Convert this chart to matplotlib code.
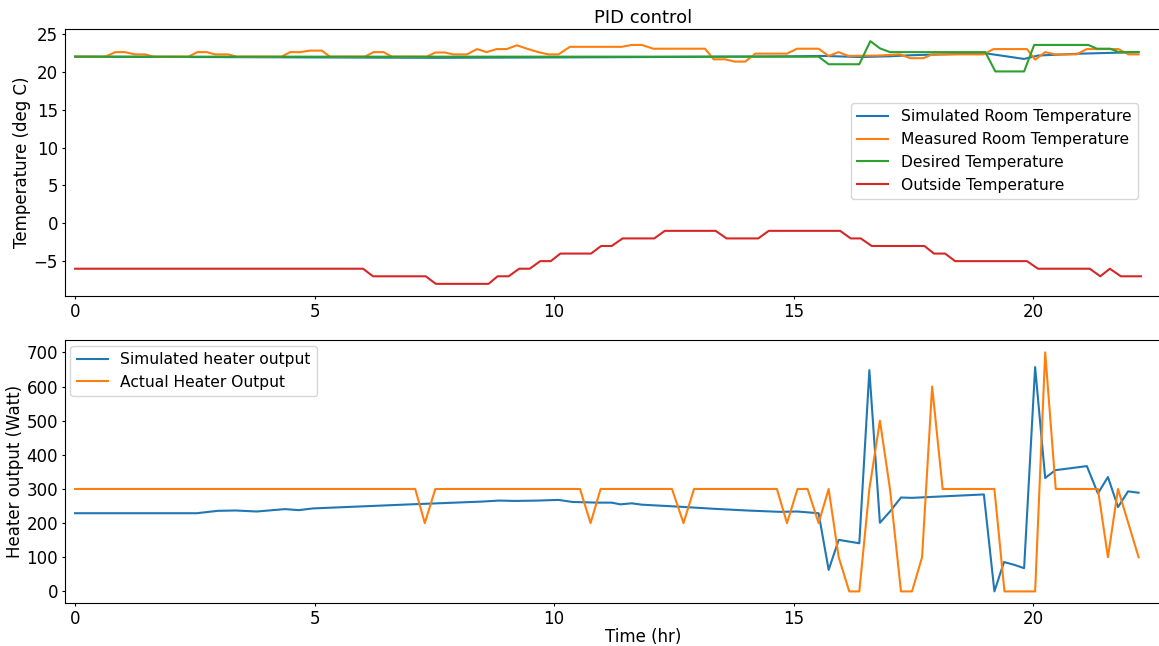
import matplotlib
matplotlib.use("Agg")
import matplotlib.pyplot as plt
from matplotlib.ticker import MultipleLocator

# --- Room temperatures (deg C), vertices ---
sim_room_t = [0, 2.5, 5, 7.5, 10, 12, 15, 15.6, 16.4, 17.0, 17.5, 19.0, 19.81, 20.1, 21.0, 22.2]
sim_room = [22.0, 21.95, 21.9, 21.85, 21.9, 21.95, 22.05, 22.1, 21.95, 22.05, 22.2, 22.45, 21.7, 22.15, 22.4, 22.6]

meas_room_t = [0, 0.63, 0.84, 1.04, 1.25, 1.46, 1.64,
               2.37, 2.55, 2.75, 2.92, 3.2, 3.37,
               4.31, 4.49, 4.7, 4.9, 5.15, 5.32,
               6.05, 6.23, 6.44, 6.61,
               7.34, 7.52, 7.72, 7.9, 8.18, 8.39, 8.59, 8.8, 9.01, 9.22, 9.46, 9.67, 9.88, 10.09, 10.33,
               11.41, 11.62, 11.83, 12.07, 13.15, 13.33, 13.57, 13.77, 13.99, 14.2, 14.86, 15.07,
               15.52, 15.73, 15.94, 16.14, 16.8, 17.22, 17.43, 17.71, 17.89, 18.96, 19.17, 19.87,
               20.04, 20.25, 20.46, 20.9, 21.12, 21.78, 21.99, 22.2]
meas_room = [22.0, 22.0, 22.6, 22.6, 22.3, 22.3, 22.0,
             22.0, 22.6, 22.6, 22.3, 22.3, 22.0,
             22.0, 22.6, 22.6, 22.8, 22.8, 22.0,
             22.0, 22.6, 22.6, 22.0,
             22.0, 22.55, 22.55, 22.3, 22.3, 23.0, 22.6, 23.0, 23.0, 23.5, 23.0, 22.6, 22.3, 22.3, 23.3,
             23.3, 23.55, 23.55, 23.05, 23.05, 21.65, 21.65, 21.35, 21.35, 22.4, 22.4, 23.05,
             23.05, 22.1, 22.6, 22.1, 22.15, 22.3, 21.8, 21.8, 22.3, 22.3, 23.0, 23.0,
             21.6, 22.6, 22.3, 22.3, 23.0, 23.0, 22.3, 22.3]

desired_t = [0, 15.52, 15.73, 16.37, 16.6, 16.8, 17.01, 19.0, 19.21, 19.81, 20.02,
             21.15, 21.33, 21.61, 21.78, 22.2]
desired = [22.0, 22.0, 21.0, 21.0, 24.05, 23.1, 22.6, 22.6, 20.05, 20.05, 23.55,
           23.55, 23.05, 23.05, 22.6, 22.6]

outside_t = [0, 6.01, 6.22, 7.32, 7.53, 8.63, 8.82, 9.05, 9.27, 9.49, 9.71, 9.93, 10.13, 10.77,
             10.98, 11.2, 11.43, 12.09, 12.31, 13.37, 13.6, 14.26, 14.48, 15.97, 16.19, 16.4,
             16.63, 17.73, 17.93, 18.16, 18.37, 19.87, 20.1, 21.18, 21.4, 21.6, 21.83, 22.25]
outside = [-6, -6, -7, -7, -8, -8, -7, -7, -6, -6, -5, -5, -4, -4,
           -3, -3, -2, -2, -1, -1, -2, -2, -1, -1, -2, -2,
           -3, -3, -4, -4, -5, -5, -6, -6, -7, -6, -7, -7]

# --- Heater output (W) ---
sim_heat_t = [0, 2.54, 2.98, 3.35, 3.79, 4.38, 4.67, 4.96, 7.01, 7.75, 8.48, 8.84, 9.2, 9.65,
              10.09, 10.38, 10.9, 11.2, 11.38, 11.62, 11.83, 12.63, 13.33, 14.02, 14.72, 15.07,
              15.52, 15.73, 15.94, 16.37, 16.58, 16.8, 17.01, 17.24, 17.47, 18.97, 19.19, 19.39,
              19.6, 19.81, 20.04, 20.25, 20.46, 21.12, 21.35, 21.56, 21.77, 21.98, 22.2]
sim_heat = [229, 229, 236, 237, 234, 241, 238, 243, 255, 259, 263, 266, 265, 266,
            268, 262, 260, 260, 255, 258, 254, 248, 242, 237, 233, 234,
            229, 63, 151, 141, 648, 201, 234, 275, 274, 284, 0, 86,
            78, 68, 657, 332, 355, 367, 287, 335, 247, 293, 289]

act_heat_t = [0, 7.1, 7.3, 7.52, 10.54, 10.76, 10.97, 12.46, 12.7, 12.92, 14.65, 14.86, 15.08,
              15.29, 15.52, 15.73, 15.94, 16.16, 16.37, 16.58, 16.8, 17.01, 17.24, 17.47, 17.68,
              17.89, 18.11, 19.19, 19.4, 20.04, 20.25, 20.47, 21.35, 21.56, 21.77, 22.2]
act_heat = [300, 300, 200, 300, 300, 200, 300, 300, 200, 300, 300, 200, 300,
            300, 200, 300, 100, 0, 0, 300, 500, 300, 0, 0, 100,
            600, 300, 300, 0, 0, 700, 300, 300, 100, 300, 100]

plt.rcParams['font.size'] = 12
plt.rcParams['legend.fontsize'] = 11.2
plt.rcParams['xtick.major.size'] = 2.5
plt.rcParams['ytick.major.size'] = 2.5
plt.rcParams['xtick.major.pad'] = 2.5
plt.rcParams['ytick.major.pad'] = 2.5
plt.rcParams['axes.labelpad'] = 2
plt.rcParams['axes.titlepad'] = 4

fig = plt.figure(figsize=(11.59, 6.46), dpi=100)
# the original picture is cropped on the right, so the axes run past the edge
ax1 = fig.add_axes([0.0561, 0.5418, 0.9974, 0.4133])
ax2 = fig.add_axes([0.0561, 0.066, 0.9974, 0.407])

ax1.plot(sim_room_t, sim_room, label='Simulated Room Temperature')
ax1.plot(meas_room_t, meas_room, label='Measured Room Temperature')
ax1.plot(desired_t, desired, label='Desired Temperature')
ax1.plot(outside_t, outside, label='Outside Temperature')
ax1.set_title('PID control', fontsize=13)
ax1.set_ylabel('Temperature (deg C)')
ax1.legend(loc='upper right', bbox_to_anchor=(0.928, 0.723), borderaxespad=0)

ax2.plot(sim_heat_t, sim_heat, label='Simulated heater output')
ax2.plot(act_heat_t, act_heat, label='Actual Heater Output')
ax2.set_xlabel('Time (hr)', labelpad=0)
ax2.set_ylabel('Heater output (Watt)')
ax2.yaxis.set_major_locator(MultipleLocator(100))
ax2.legend(loc='upper left', borderaxespad=0.35)

for ax in (ax1, ax2):
    ax.set_xlim(-0.21, 23.92)

fig.savefig('out.png', dpi=100)
